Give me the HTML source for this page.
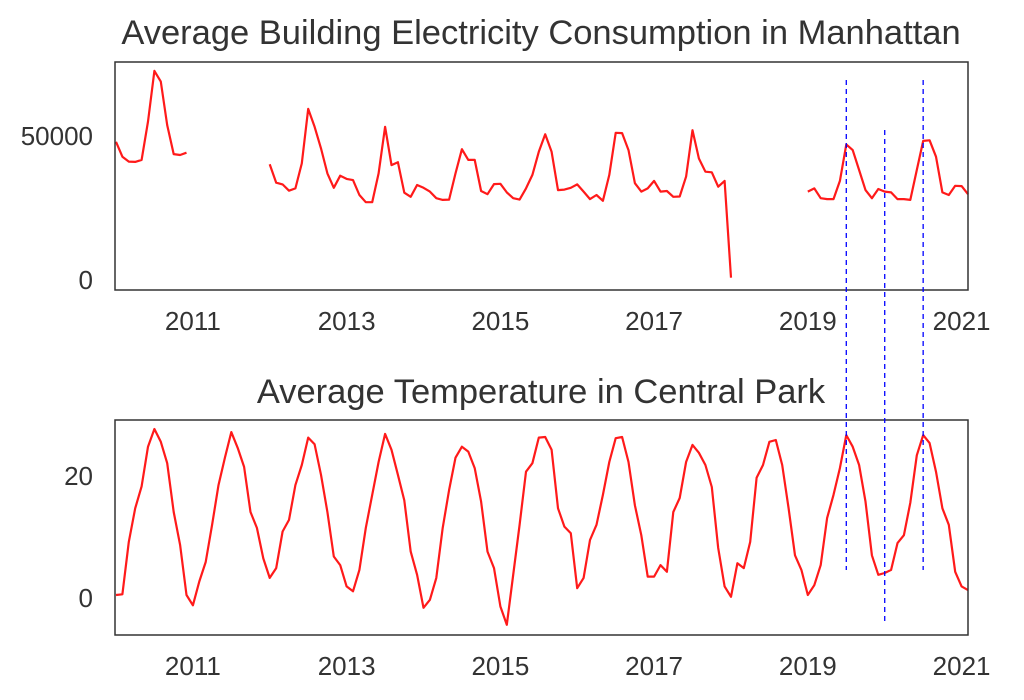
<!DOCTYPE html>
<html><head><meta charset="utf-8"><style>
body{margin:0;background:#fff;}
svg{display:block;font-family:"Liberation Sans",sans-serif;}
</style></head><body>
<svg id="fig" width="1024" height="700">
<g id="top"></g>
<g id="bot"></g>
<g id="vl"></g>
</svg>
<script>
const elecValues=[48000,42800,41100,41000,41700,55000,72600,68900,53800,43700,43400,44200,
null,null,null,null,null,null,null,null,null,null,null,null,
40200,33800,33200,31000,31800,40500,59400,53200,45700,37000,32000,36200,
35100,34700,29500,27000,27000,37000,53200,39900,40900,30300,28900,33000,
32000,30700,28400,27800,27900,37000,45400,41700,41700,30900,29800,33300,
33400,30400,28400,27900,31800,36500,44500,50600,44500,31200,31400,32000,
33200,30700,28100,29500,27500,36500,51100,51000,45100,33600,30700,31800,
34400,30700,30900,28900,29000,35900,52000,42200,37600,37400,32400,34400,
800,null,null,null,null,null,null,null,null,null,null,null,
30700,31800,28400,28100,28100,34400,47100,45100,38200,31200,28400,31600,
30700,30400,28100,28100,27800,38200,48300,48500,42800,30400,29500,32700,
32600,29800];
const tempValues=[0.5,0.6,9.2,14.7,18.3,24.8,27.7,25.6,22.1,14.1,8.7,0.5,
-1.2,2.7,5.9,12,18.5,23,27.2,24.6,21.5,14.1,11.5,6.5,
3.3,4.9,10.9,12.8,18.5,21.8,26.3,25.2,20.2,14.1,6.8,5.4,
1.9,1.1,4.6,11.5,16.9,22.3,26.9,24.3,20.2,16,7.6,3.8,
-1.6,-0.3,3.3,11.5,17.7,23,24.8,24,21.3,15.8,7.6,4.9,
-1.4,-4.4,3.8,12,20.7,22.1,26.3,26.4,24.3,14.7,11.7,10.6,
1.6,3.3,9.5,12,16.9,22.3,26.2,26.4,22.3,15.2,10.3,3.5,
3.5,5.4,4.3,14.1,16.4,22.3,25.1,23.8,21.8,18.2,8.2,1.9,
0.2,5.7,4.9,9.2,19.7,21.8,25.6,25.9,21.8,14.7,7,4.6,
0.5,2.1,5.4,13.1,16.9,21.3,26.7,24.8,21.8,15.8,7,3.8,
4.1,4.6,9,10.3,15.6,23.4,26.7,25.4,20.7,14.7,12,4.3,
1.9,1.3];
const xTickLabels=["2011","2013","2015","2017","2019","2021"];
const xTickMonths=[12,36,60,84,108,132];
const elecTicks=[0,50000];
const tempTicks=[0,20];
const eventMonths=[114,120,126];

const NS="http://www.w3.org/2000/svg";
function mk(p,t,a){const e=document.createElementNS(NS,t);for(const k in a)e.setAttribute(k,a[k]);p.appendChild(e);return e;}
const X0=116,DX=(968-116)/133;
function xs(i){return X0+i*DX;}
function panel(g,vals,ticks,yOf,top,bot,title,titleY,labY,nm){
  const tt=mk(g,'text',{x:541,y:titleY,'text-anchor':'middle','font-size':34.5,fill:'#333'});tt.textContent=title;
  
  
  ticks.forEach(v=>{const t=mk(g,'text',{x:93,y:yOf(v)+9,'text-anchor':'end','font-size':26,fill:'#333'});t.textContent=v;
    
    });
  xTickMonths.forEach((m,k)=>{const t=mk(g,'text',{x:xs(m),y:labY,'text-anchor':'middle','font-size':26,fill:'#333'});t.textContent=xTickLabels[k];
    
    });
  let d='',pen=false;
  vals.forEach((v,i)=>{if(v===null){pen=false;return;}d+=(pen?'L':'M')+xs(i).toFixed(1)+' '+yOf(v).toFixed(1)+' ';pen=true;});
  const p=mk(g,'path',{d:d,fill:'none',stroke:'#ff1a1a','stroke-width':2.2,'stroke-linejoin':'round'});
  
  
  const f=mk(g,'rect',{x:115,y:top,width:853,height:bot-top,fill:'none',stroke:'#333','stroke-width':1.5});
  
  
}
panel(document.getElementById('top'),elecValues,elecTicks,v=>280-v*144/50000,62,290,'Average Building Electricity Consumption in Manhattan',44,330,'electricity');
panel(document.getElementById('bot'),tempValues,tempTicks,v=>598-v*6.1,420,635,'Average Temperature in Central Park',403,675,'temperature');
const vl=document.getElementById('vl');
const spans=[[80,570],[130,622],[80,570]];
eventMonths.forEach((m,k)=>{const l=mk(vl,'line',{x1:xs(m),x2:xs(m),y1:spans[k][0],y2:spans[k][1],stroke:'#0000ff','stroke-width':1.3,'stroke-dasharray':'5 4'});
  
  });
</script>
</body></html>
